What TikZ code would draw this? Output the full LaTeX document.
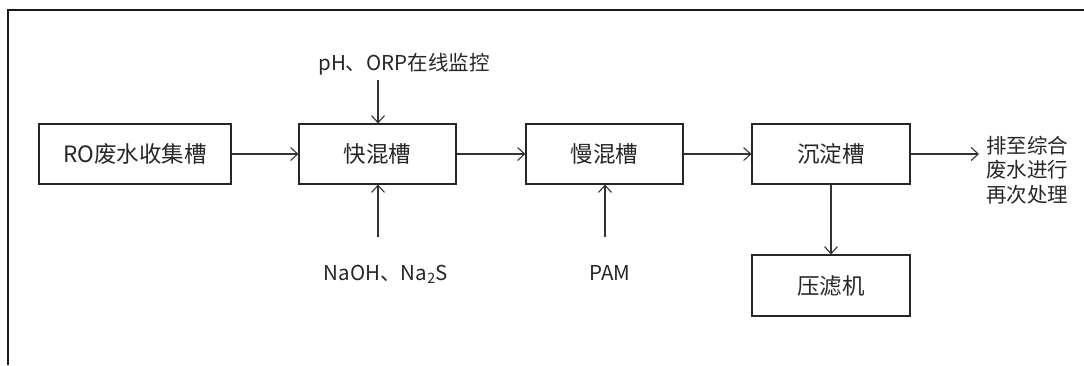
\documentclass[tikz,border=0pt]{standalone}
\usepackage{fontspec}
\setmainfont{Noto Sans CJK SC}
\usetikzlibrary{arrows.meta}
\begin{document}
\begin{tikzpicture}[x=1pt,y=-1pt,
  box/.style={draw=black!85, line width=1.2pt, minimum height=60pt, inner sep=0pt,
    font=\fontsize{22.5}{25}\selectfont, text=black!85},
  lbl/.style={font=\fontsize{20.5}{24.5}\selectfont, text=black!85, inner sep=0pt},
  arr/.style={draw=black!80, line width=1.1pt, -{Straight Barb[length=7pt,width=13pt,line width=1.1pt]}}]
\useasboundingbox (0,0) rectangle (1084,365);
\draw[line width=1.6pt, black!90] (1084,10) -- (8,10) -- (8,365);
\node[box, minimum width=192pt] (ro) at (135,154) {RO废水收集槽};
\node[box, minimum width=157pt] (fast) at (377.5,154) {快混槽};
\node[box, minimum width=157pt] (slow) at (604.5,154) {慢混槽};
\node[box, minimum width=158pt] (sed) at (831,154) {沉淀槽};
\node[box, minimum width=158pt, minimum height=61pt] (press) at (831,285.5) {压滤机};
\node[lbl] (ph) at (404,64) {pH、ORP在线监控};
\node[lbl] (naoh) at (386,274) {NaOH、Na\textsubscript{2}S};
\node[lbl] (pam) at (610,273) {PAM};
\node[lbl, anchor=west, align=left] (out) at (986,170) {排至综合\\废水进行\\再次处理};
\coordinate (phin) at (378,80);
\coordinate (naohin) at (378,237);
\coordinate (pamin) at (605,237);
\coordinate (outend) at (979,145);
\draw[arr] (ro.east) -- (fast.west);
\draw[arr] (fast.east) -- (slow.west);
\draw[arr] (slow.east) -- (sed.west);
\draw[arr] (sed.east) -- (sed.east -| outend);
\draw[arr] (sed.south) -- (press.north);
\draw[arr] (phin) -- (phin |- fast.north);
\draw[arr] (naohin) -- (naohin |- fast.south);
\draw[arr] (pamin) -- (pamin |- slow.south);
\end{tikzpicture}
\end{document}
